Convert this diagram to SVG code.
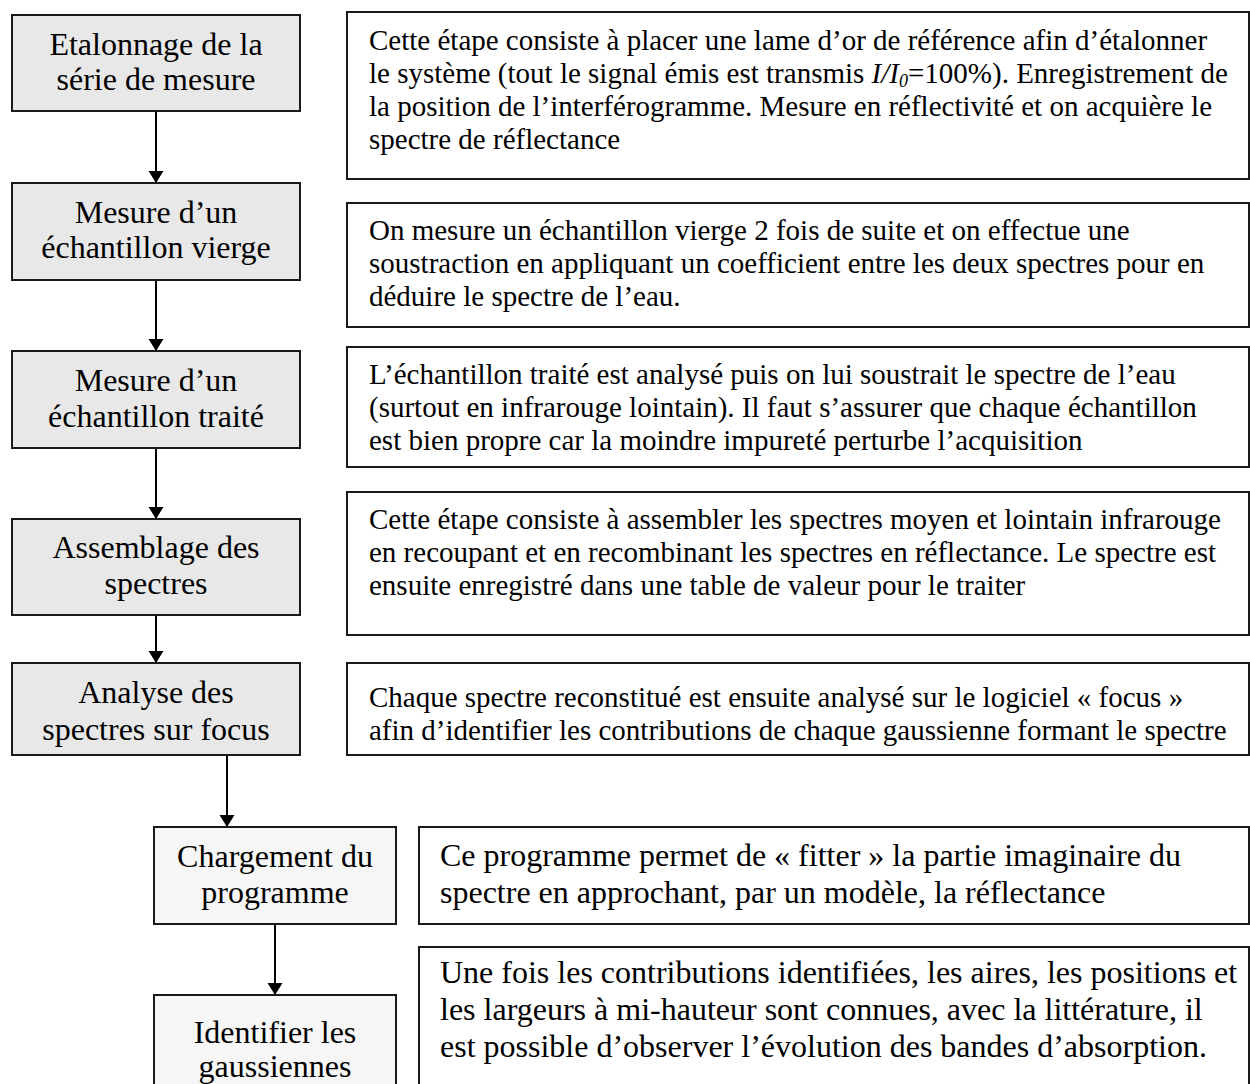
<svg xmlns="http://www.w3.org/2000/svg" width="1250" height="1084" viewBox="0 0 1250 1084">
<style>
text{font-family:"Liberation Serif","Times New Roman",serif;fill:#000}
.step{fill:#e8e8e8;stroke:#1a1a1a;stroke-width:2}
.step2{fill:#f6f6f6;stroke:#1a1a1a;stroke-width:2}
.desc{fill:#fff;stroke:#1a1a1a;stroke-width:2}
.lt{font-size:32px;text-anchor:middle}
.dt{font-size:29px}
.dt2{font-size:32px}
.conn{stroke:#000;stroke-width:2;fill:none}
</style>
<defs>
<marker id="arr" markerUnits="userSpaceOnUse" markerWidth="14" markerHeight="16" refX="12" refY="7.5" orient="auto">
<path d="M0,0 L12,7.5 L0,15 Z" fill="#000"/>
</marker>
</defs>
<rect width="1250" height="1084" fill="#fff"/>

<g id="connectors">
<line class="conn" x1="156" y1="111" x2="156" y2="183" marker-end="url(#arr)"/>
<line class="conn" x1="156" y1="280" x2="156" y2="351" marker-end="url(#arr)"/>
<line class="conn" x1="156" y1="448" x2="156" y2="519" marker-end="url(#arr)"/>
<line class="conn" x1="156" y1="615" x2="156" y2="663" marker-end="url(#arr)"/>
<line class="conn" x1="227" y1="755" x2="227" y2="827" marker-end="url(#arr)"/>
<line class="conn" x1="275" y1="924" x2="275" y2="995" marker-end="url(#arr)"/>
</g>

<g id="step1">
<rect class="step" x="12" y="15" width="288" height="96"/>
<text class="lt" x="156" y="55">Etalonnage de la</text>
<text class="lt" x="156" y="90">série de mesure</text>
</g>
<g id="step2">
<rect class="step" x="12" y="183" width="288" height="97"/>
<text class="lt" x="156" y="223">Mesure d’un</text>
<text class="lt" x="156" y="258">échantillon vierge</text>
</g>
<g id="step3">
<rect class="step" x="12" y="351" width="288" height="97"/>
<text class="lt" x="156" y="391">Mesure d’un</text>
<text class="lt" x="156" y="427">échantillon traité</text>
</g>
<g id="step4">
<rect class="step" x="12" y="519" width="288" height="96"/>
<text class="lt" x="156" y="558">Assemblage des</text>
<text class="lt" x="156" y="594">spectres</text>
</g>
<g id="step5">
<rect class="step" x="12" y="663" width="288" height="92"/>
<text class="lt" x="156" y="703">Analyse des</text>
<text class="lt" x="156" y="740">spectres sur focus</text>
</g>
<g id="step6">
<rect class="step2" x="154" y="827" width="242" height="97"/>
<text class="lt" x="275" y="867">Chargement du</text>
<text class="lt" x="275" y="903">programme</text>
</g>
<g id="step7">
<rect class="step2" x="154" y="995" width="242" height="110"/>
<text class="lt" x="275" y="1043">Identifier les</text>
<text class="lt" x="275" y="1077">gaussiennes</text>
</g>

<g id="desc1">
<rect class="desc" x="347" y="12" width="902" height="167"/>
<text class="dt" x="369" y="50">Cette étape consiste à placer une lame d’or de référence afin d’étalonner</text>
<text class="dt" x="369" y="83">le système (tout le signal émis est transmis <tspan font-style="italic">I/I</tspan><tspan font-style="italic" font-size="18" dy="4">0</tspan><tspan dy="-4">=100%). Enregistrement de</tspan></text>
<text class="dt" x="369" y="116">la position de l’interférogramme. Mesure en réflectivité et on acquière le</text>
<text class="dt" x="369" y="149">spectre de réflectance</text>
</g>
<g id="desc2">
<rect class="desc" x="347" y="203" width="902" height="124"/>
<text class="dt" x="369" y="240">On mesure un échantillon vierge 2 fois de suite et on effectue une</text>
<text class="dt" x="369" y="273">soustraction en appliquant un coefficient entre les deux spectres pour en</text>
<text class="dt" x="369" y="306">déduire le spectre de l’eau.</text>
</g>
<g id="desc3">
<rect class="desc" x="347" y="347" width="902" height="120"/>
<text class="dt" x="369" y="384">L’échantillon traité est analysé puis on lui soustrait le spectre de l’eau</text>
<text class="dt" x="369" y="417">(surtout en infrarouge lointain). Il faut s’assurer que chaque échantillon</text>
<text class="dt" x="369" y="450">est bien propre car la moindre impureté perturbe l’acquisition</text>
</g>
<g id="desc4">
<rect class="desc" x="347" y="492" width="902" height="143"/>
<text class="dt" x="369" y="529">Cette étape consiste à assembler les spectres moyen et lointain infrarouge</text>
<text class="dt" x="369" y="562">en recoupant et en recombinant les spectres en réflectance. Le spectre est</text>
<text class="dt" x="369" y="595">ensuite enregistré dans une table de valeur pour le traiter</text>
</g>
<g id="desc5">
<rect class="desc" x="347" y="663" width="902" height="92"/>
<text class="dt" x="369" y="707">Chaque spectre reconstitué est ensuite analysé sur le logiciel « focus »</text>
<text class="dt" x="369" y="740">afin d’identifier les contributions de chaque gaussienne formant le spectre</text>
</g>
<g id="desc6">
<rect class="desc" x="419" y="827" width="830" height="97"/>
<text class="dt2" x="440" y="866">Ce programme permet de « fitter » la partie imaginaire du</text>
<text class="dt2" x="440" y="903">spectre en approchant, par un modèle, la réflectance</text>
</g>
<g id="desc7">
<rect class="desc" x="419" y="947" width="830" height="160"/>
<text class="dt2" x="440" y="983">Une fois les contributions identifiées, les aires, les positions et</text>
<text class="dt2" x="440" y="1020">les largeurs à mi-hauteur sont connues, avec la littérature, il</text>
<text class="dt2" x="440" y="1057">est possible d’observer l’évolution des bandes d’absorption.</text>
</g>
</svg>
